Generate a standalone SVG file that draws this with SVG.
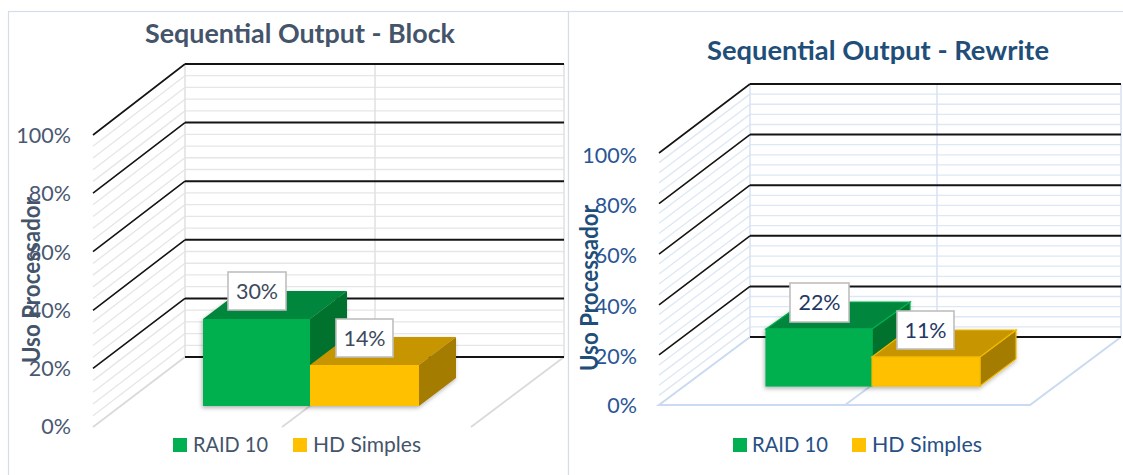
<svg xmlns="http://www.w3.org/2000/svg" width="1123" height="475" viewBox="0 0 1123 475">
  <defs>
    <style>
      .panel{fill:#fff;stroke:#D5DDEA;stroke-width:1.2}
      .minL{stroke:#E6E6E6;stroke-width:1.3;fill:none}
      .minR{stroke:#DDE8F5;stroke-width:1.3;fill:none}
      .vL{stroke:#E1E1E1;stroke-width:1.5;fill:none}
      .vR{stroke:#D6E2F2;stroke-width:1.5;fill:none}
      .flL{stroke:#DADADA;stroke-width:1.8;fill:none}
      .flR{stroke:#CADAF0;stroke-width:2;fill:none}
      .maj{stroke:#141414;stroke-width:2;fill:none}
      .dia{stroke:#141414;stroke-width:1.6;fill:none}
      .gF{fill:#00B050}.gT{fill:#00873C}.gS{fill:#00722F}
      .yF{fill:#FFC000}.yT{fill:#C79500}.yS{fill:#A47B00}
      .oG{stroke:#00B050;stroke-width:1.2}
      .oY{stroke:#F2BA00;stroke-width:1.2}
      .lbl{fill:#fff;stroke:#BFBFBF;stroke-width:1.6}
      text{font-family:Lato,"Liberation Sans",sans-serif}
      .ttlL{font-size:27px;font-weight:bold;fill:#44546A}
      .ttlR{font-size:27px;font-weight:bold;fill:#1F4E79}
      .tkL{font-size:21.5px;fill:#4A5870;text-anchor:end}
      .tkR{font-size:21.5px;fill:#2A5594;text-anchor:end}
      .axL{font-size:24px;font-weight:bold;fill:#44546A;text-anchor:middle}
      .axR{font-size:24px;font-weight:bold;fill:#1F4E79;text-anchor:middle}
      .lgL{font-size:21.5px;fill:#44546A}
      .lgR{font-size:21.5px;fill:#264F86}
      .dlL{font-size:21.5px;fill:#3E4A5C;text-anchor:middle}
      .dlR{font-size:21.5px;fill:#1F3864;text-anchor:middle}
    </style>
    <filter id="sh" x="-10%" y="-10%" width="130%" height="130%">
      <feDropShadow dx="-1" dy="2" stdDeviation="2" flood-color="#000" flood-opacity="0.3"/>
    </filter>
  </defs>
  <rect x="0" y="0" width="1123" height="475" fill="#fff"/>

  <!-- LEFT CHART -->
  <g id="chart-block">
    <rect class="panel" x="8.5" y="11.5" width="560" height="480"/>
    <text class="ttlL" x="300" y="43" text-anchor="middle" textLength="310" lengthAdjust="spacingAndGlyphs">Sequential Output - Block</text>
    <g id="grid-block">
      <path class="minL" d="M185,345.28h379M185,333.56h379M185,321.84h379M185,310.12h379M185,286.68h379M185,274.96h379M185,263.24h379M185,251.52h379M185,228.08h379M185,216.36h379M185,204.64h379M185,192.92h379M185,169.48h379M185,157.76h379M185,146.04h379M185,134.32h379M185,110.88h379M185,99.16h379M185,87.44h379M185,75.72h379"/>
      <path class="minL" d="M185,345.28l-92,70.5M185,333.56l-92,70.5M185,321.84l-92,70.5M185,310.12l-92,70.5M185,286.68l-92,70.5M185,274.96l-92,70.5M185,263.24l-92,70.5M185,251.52l-92,70.5M185,228.08l-92,70.5M185,216.36l-92,70.5M185,204.64l-92,70.5M185,192.92l-92,70.5M185,169.48l-92,70.5M185,157.76l-92,70.5M185,146.04l-92,70.5M185,134.32l-92,70.5M185,110.88l-92,70.5M185,99.16l-92,70.5M185,87.44l-92,70.5M185,75.72l-92,70.5"/>
      <path class="vL" d="M185,64V357M375,64V357M564,64V357"/>
      <path class="flL" d="M185,357L93,427M375,357L282,427M564,357L471,427"/>
      <path class="maj" d="M185,64H564M185,122.6H564M185,181.2H564M185,239.8H564M185,298.4H564M185,357H564"/>
      <path class="dia" d="M185,64l-92,71M185,122.6l-92,70.5M185,181.2l-92,70.5M185,239.8l-92,70.5M185,298.4l-92,70"/>
    </g>
    <g id="ticks-block">
      <text class="tkL" x="71" y="143">100%</text>
      <text class="tkL" x="71" y="201">80%</text>
      <text class="tkL" x="71" y="260">60%</text>
      <text class="tkL" x="71" y="318">40%</text>
      <text class="tkL" x="71" y="376">20%</text>
      <text class="tkL" x="71" y="434">0%</text>
    </g>
    <text class="axL" transform="translate(40,280) rotate(-90)" x="0" y="0" textLength="166" lengthAdjust="spacingAndGlyphs">Uso Processador</text>
    <g id="bars-block" filter="url(#sh)">
      <polygon class="gS" points="310,319 347,291 347,378 310,406"/>
      <polygon class="gT" points="203,319 240,291 347,291 310,319"/>
      <rect class="gF" x="203" y="319" width="107" height="87"/>
      <polygon class="yS" points="419,365 456,337 456,378 419,406"/>
      <polygon class="yT" points="310,365 347,337 456,337 419,365"/>
      <rect class="yF" x="310" y="365" width="109" height="41"/>
    </g>
    <g id="labels-block">
      <rect class="lbl" x="228" y="272" width="58" height="38"/>
      <text class="dlL" x="257" y="299">30%</text>
      <rect class="lbl" x="336" y="319" width="57" height="38"/>
      <text class="dlL" x="364.5" y="346">14%</text>
    </g>
    <g id="legend-block">
      <rect x="173" y="438" width="14" height="14" fill="#00B050"/>
      <text class="lgL" x="193" y="452" textLength="75" lengthAdjust="spacingAndGlyphs">RAID 10</text>
      <rect x="293" y="438" width="14" height="14" fill="#FFC000"/>
      <text class="lgL" x="313" y="452" textLength="108" lengthAdjust="spacingAndGlyphs">HD Simples</text>
    </g>
  </g>

  <!-- RIGHT CHART -->
  <g id="chart-rewrite">
    <rect class="panel" x="568.5" y="11.5" width="570" height="480"/>
    <text class="ttlR" x="878" y="60" text-anchor="middle" textLength="342" lengthAdjust="spacingAndGlyphs">Sequential Output - Rewrite</text>
    <g id="grid-rewrite">
      <path class="minR" d="M750,326.88h371M750,316.76h371M750,306.64h371M750,296.52h371M750,276.28h371M750,266.16h371M750,256.04h371M750,245.92h371M750,225.68h371M750,215.56h371M750,205.44h371M750,195.32h371M750,175.08h371M750,164.96h371M750,154.84h371M750,144.72h371M750,124.48h371M750,114.36h371M750,104.24h371M750,94.12h371"/>
      <path class="minR" d="M750,326.88l-91,68.5M750,316.76l-91,68.5M750,306.64l-91,68.5M750,296.52l-91,68.5M750,276.28l-91,68.5M750,266.16l-91,68.5M750,256.04l-91,68.5M750,245.92l-91,68.5M750,225.68l-91,68.5M750,215.56l-91,68.5M750,205.44l-91,68.5M750,195.32l-91,68.5M750,175.08l-91,68.5M750,164.96l-91,68.5M750,154.84l-91,68.5M750,144.72l-91,68.5M750,124.48l-91,68.5M750,114.36l-91,68.5M750,104.24l-91,68.5M750,94.12l-91,68.5"/>
      <path class="vR" d="M750,84V337M937,84V337M1121,84V337"/>
      <path class="flR" d="M750,337L659,405H1030L1121,337M937,337L845,405"/>
      <path class="maj" d="M750,84H1121M750,134.6H1121M750,185.2H1121M750,235.8H1121M750,286.4H1121M750,337H1121"/>
      <path class="dia" d="M750,84l-91,69M750,134.6l-91,69M750,185.2l-91,69M750,235.8l-91,69M750,286.4l-91,68.5"/>
    </g>
    <g id="ticks-rewrite">
      <text class="tkR" x="637" y="163">100%</text>
      <text class="tkR" x="637" y="213">80%</text>
      <text class="tkR" x="637" y="263">60%</text>
      <text class="tkR" x="637" y="314">40%</text>
      <text class="tkR" x="637" y="364">20%</text>
      <text class="tkR" x="637" y="413">0%</text>
    </g>
    <text class="axR" transform="translate(598,288) rotate(-90)" x="0" y="0" textLength="166" lengthAdjust="spacingAndGlyphs">Uso Processador</text>
    <g id="bars-rewrite" filter="url(#sh)">
      <polygon class="gS oG" points="872,329 910,302 910,359 872,386"/>
      <polygon class="gT oG" points="766,329 804,302 910,302 872,329"/>
      <rect class="gF oG" x="766" y="329" width="106" height="57"/>
      <polygon class="yS oY" points="980,357 1016,330 1016,359 980,386"/>
      <polygon class="yT oY" points="872,357 908,330 1016,330 980,357"/>
      <rect class="yF oY" x="872" y="357" width="108" height="29"/>
    </g>
    <g id="labels-rewrite">
      <rect class="lbl" x="790" y="283" width="59" height="39"/>
      <text class="dlR" x="819.5" y="310">22%</text>
      <rect class="lbl" x="897" y="311" width="57" height="38"/>
      <text class="dlR" x="925.5" y="338">11%</text>
    </g>
    <g id="legend-rewrite">
      <rect x="733" y="438" width="14" height="14" fill="#00B050"/>
      <text class="lgR" x="752" y="452" textLength="76" lengthAdjust="spacingAndGlyphs">RAID 10</text>
      <rect x="852" y="438" width="14" height="14" fill="#FFC000"/>
      <text class="lgR" x="872" y="452" textLength="110" lengthAdjust="spacingAndGlyphs">HD Simples</text>
    </g>
  </g>
</svg>
